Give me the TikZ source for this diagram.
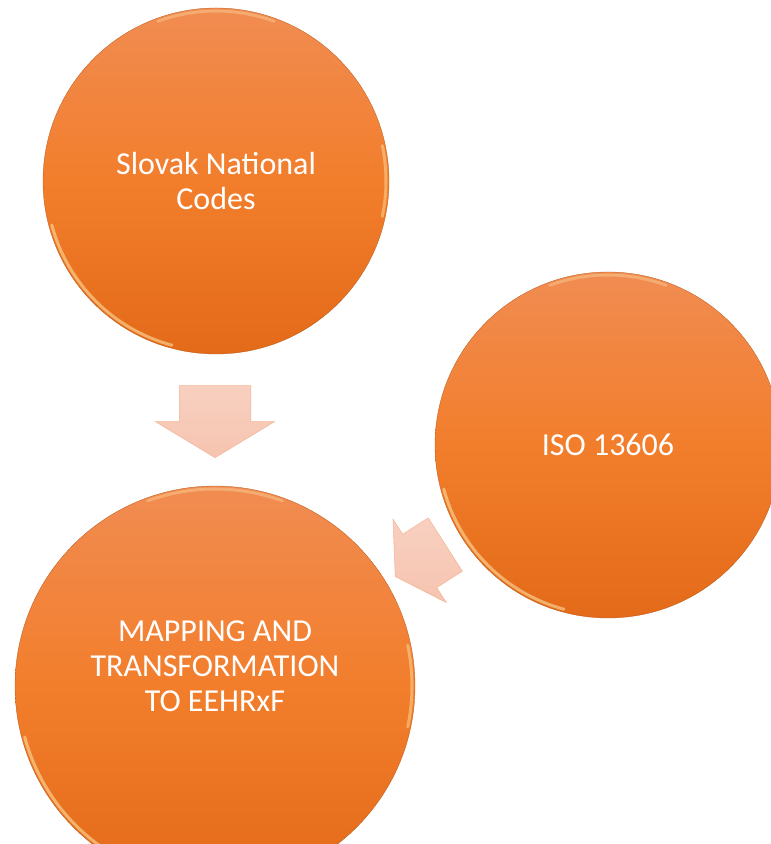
\documentclass[tikz,border=0pt]{standalone}
\usepackage{fontspec}
\setmainfont{Carlito}
\usetikzlibrary{shapes.arrows}

\definecolor{orangeTop}{RGB}{241,140,82}
\definecolor{orangeMid}{RGB}{242,126,44}
\definecolor{orangeBot}{RGB}{227,106,25}
\definecolor{arrowFill}{RGB}{246,196,176}
\definecolor{rimGlow}{RGB}{255,232,170}

\tikzset{
  bubble/.style={circle, inner sep=0pt, top color=orangeTop, bottom color=orangeBot, middle color=orangeMid,
                 draw=orangeBot!80!black, line width=0.3pt},
  bubbletext/.style={text=white, align=center, font=\fontsize{32}{35}\selectfont},
  rim/.style={rimGlow, line width=3pt, opacity=0.55, line cap=round},
  blockarrow/.style={single arrow, inner xsep=0pt, top color=arrowFill!80!white, bottom color=arrowFill,
                     draw=arrowFill!70!orangeTop, line width=0.5pt}
}

\begin{document}
\begin{tikzpicture}[x=1pt,y=1pt]

    \useasboundingbox (0,0) rectangle (771,844);
    \clip (0,0) rectangle (771,844);

    % Circles
    \node[bubble, minimum size=346pt] (slovak) at (216,663) {}; % Slovak National Codes
    \node[bubble, minimum size=346pt] (iso) at (608,399) {}; % ISO 13606
    \node[bubble, minimum size=400pt] (mapping) at (215,158) {}; % Mapping

    % Glossy rims
    \foreach \c/\r in {slovak/170, iso/170, mapping/197} {
      \draw[rim] ([shift={(195:\r pt)}]\c.center) arc[start angle=195, end angle=255, radius=\r pt];
      \draw[rim, opacity=0.35] ([shift={(70:\r pt)}]\c.center) arc[start angle=70, end angle=110, radius=\r pt];
      \draw[rim, opacity=0.45] ([shift={(-12:\r pt)}]\c.center) arc[start angle=-12, end angle=12, radius=\r pt];
    }

    % Texts
    \node[bubbletext] (slovakText) at (slovak.center) {Slovak National\\Codes};
    \node[bubbletext] (isoText) at (iso.center) {ISO 13606};
    \node[bubbletext] (mappingText) at ([yshift=20pt]mapping.center) {MAPPING AND\\TRANSFORMATION\\TO EEHRxF};

    % Arrows
    \node[blockarrow, inner ysep=35.5pt, minimum height=72pt, single arrow head extend=24pt,
          single arrow tip angle=117.6, rotate=-90, anchor=tip] (downArrow) at (215,386) {};
    \node[blockarrow, inner ysep=31.4pt, minimum height=59.4pt, single arrow head extend=17.9pt,
          single arrow tip angle=119.3, rotate=212.6, anchor=tip] (diagArrow) at (395,267.3) {};

\end{tikzpicture}
\end{document}
